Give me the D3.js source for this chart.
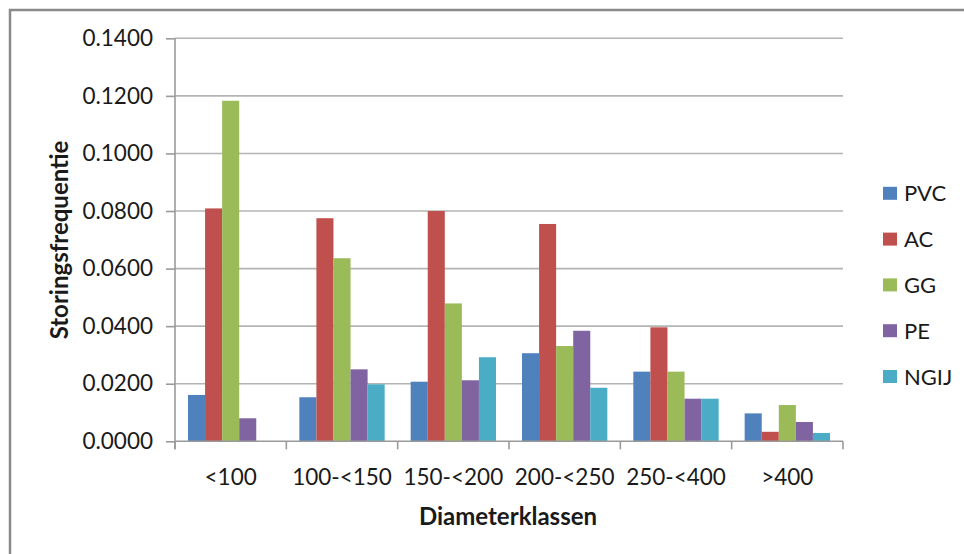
<!DOCTYPE html>
<html>
<head>
<meta charset="utf-8">
<script src="https://cdn.jsdelivr.net/npm/d3@7"></script>
<style>
  html, body { margin: 0; padding: 0; background: #fff; }
  svg { display: block; }
  text { font-family: Lato, "Open Sans", sans-serif; fill: #1a1a1a; }
</style>
</head>
<body>
<svg id="chart" width="964" height="554"></svg>
<script>
const categories = ["<100", "100-<150", "150-<200", "200-<250", "250-<400", ">400"];
const seriesNames = ["PVC", "AC", "GG", "PE", "NGIJ"];
const seriesColors = ["#4F81BD", "#C0504D", "#9BBB59", "#8064A2", "#4BACC6"];
const PVC  = [0.0161, 0.0153, 0.0207, 0.0306, 0.0242, 0.0097];
const AC   = [0.0809, 0.0775, 0.0800, 0.0755, 0.0396, 0.0033];
const GG   = [0.1183, 0.0636, 0.0479, 0.0331, 0.0242, 0.0126];
const PE   = [0.0080, 0.0250, 0.0212, 0.0384, 0.0148, 0.0067];
const NGIJ = [0.0000, 0.0198, 0.0292, 0.0186, 0.0148, 0.0029];
const yTicks = [0, 0.02, 0.04, 0.06, 0.08, 0.10, 0.12, 0.14];
const yTitle = "Storingsfrequentie";
const xTitle = "Diameterklassen";

const seriesValues = [PVC, AC, GG, PE, NGIJ];
const data = categories.map((c, i) => ({
  cat: c,
  vals: seriesNames.map((s, j) => ({ name: s, value: seriesValues[j][i], color: seriesColors[j] }))
}));

const svg = d3.select("#chart");

// outer frame
svg.append("rect")
  .attr("x", 10).attr("y", 10)
  .attr("width", 1000).attr("height", 600)
  .attr("fill", "#fff")
  .attr("stroke", "#8a8a8a").attr("stroke-width", 2.5);

const pLeft = 175, pRight = 843, pTop = 38.3, pBottom = 441.3;

const x0 = d3.scaleBand().domain(categories).range([pLeft, pRight]).paddingInner(0).paddingOuter(0);
const inner = 13;
const x1 = d3.scaleBand().domain(seriesNames).range([inner, x0.bandwidth() - inner]).padding(0);
const y = d3.scaleLinear().domain([0, 0.14]).range([pBottom, pTop]);

// gridlines
svg.append("g")
  .selectAll("line")
  .data(yTicks.filter(t => t > 0))
  .join("line")
  .attr("x1", pLeft).attr("x2", pRight)
  .attr("y1", d => y(d)).attr("y2", d => y(d))
  .attr("stroke", "#b4b4b4").attr("stroke-width", 1.6);

// bars
const groups = svg.append("g")
  .selectAll("g")
  .data(data)
  .join("g")
  .attr("transform", d => `translate(${x0(d.cat)},0)`);

groups.selectAll("rect")
  .data(d => d.vals)
  .join("rect")
  .attr("x", d => x1(d.name))
  .attr("width", x1.bandwidth())
  .attr("y", d => y(d.value))
  .attr("height", d => pBottom - y(d.value))
  .attr("fill", d => d.color);

// y axis
const yAxis = d3.axisLeft(y).tickValues(yTicks).tickFormat(d3.format(".4f")).tickSize(9).tickPadding(13);
const gy = svg.append("g").attr("transform", `translate(${pLeft},0)`).call(yAxis);
gy.select(".domain").attr("stroke", "#9a9a9a").attr("stroke-width", 1.6).attr("d", `M0,${pTop}V${pBottom + 8}`);
gy.selectAll(".tick line").attr("stroke", "#9a9a9a").attr("stroke-width", 1.6);
gy.selectAll(".tick text").style("font-size", "22.5px").style("font-family", "Lato, sans-serif").attr("fill", "#1a1a1a");

// x axis
const boundaries = categories.map(c => x0(c)).concat([pRight]);
const gx = svg.append("g");
gx.append("line").attr("x1", pLeft).attr("x2", pRight).attr("y1", pBottom).attr("y2", pBottom)
  .attr("stroke", "#9a9a9a").attr("stroke-width", 1.6);
gx.selectAll("line.tk").data(boundaries).join("line").attr("class", "tk")
  .attr("x1", d => d).attr("x2", d => d).attr("y1", pBottom).attr("y2", pBottom + 8)
  .attr("stroke", "#9a9a9a").attr("stroke-width", 1.6);
gx.selectAll("text").data(categories).join("text")
  .attr("x", d => x0(d) + x0.bandwidth() / 2)
  .attr("y", 485)
  .attr("text-anchor", "middle")
  .style("font-size", "22.5px")
  .text(d => d);

// axis titles
svg.append("text")
  .attr("x", 508).attr("y", 525)
  .attr("text-anchor", "middle")
  .style("font-size", "24px").style("font-weight", "bold")
  .text(xTitle);

svg.append("text")
  .attr("transform", "translate(68,240) rotate(-90)")
  .attr("text-anchor", "middle")
  .style("font-size", "24px").style("font-weight", "bold")
  .text(yTitle);

// legend
const legend = svg.append("g").selectAll("g")
  .data(seriesNames)
  .join("g")
  .attr("transform", (d, i) => `translate(883,${193.3 + i * 45.8})`);
legend.append("rect")
  .attr("x", 0).attr("y", -6.5).attr("width", 14).attr("height", 13)
  .attr("fill", (d, i) => seriesColors[i]);
legend.append("text")
  .attr("x", 21).attr("y", 8)
  .style("font-size", "22px")
  .text(d => d);
</script>
</body>
</html>
